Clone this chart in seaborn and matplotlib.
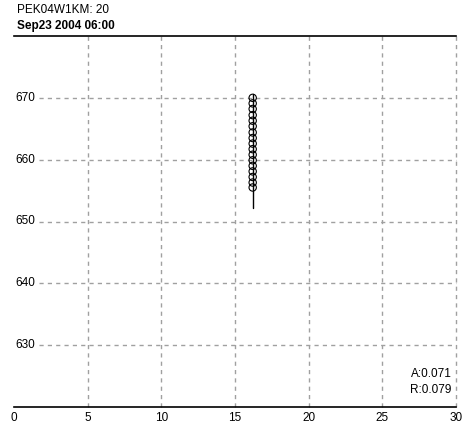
import matplotlib
matplotlib.use("Agg")
import matplotlib.pyplot as plt
import seaborn as sns

# station / time header
station = "PEK04W1KM: 20"
stamp = "Sep23 2004 06:00"

# vertical extent of the line (x fixed)
line_x = [16.2, 16.2]
line_y = [652.2, 670.6]

# circle markers along the line
pts_x = [16.2] * 17
pts_y = [670.0, 669.1, 668.2, 667.2, 666.3, 665.4, 664.4, 663.5, 662.6,
         661.7, 660.8, 659.9, 659.0, 658.1, 657.2, 656.3, 655.5]

x_ticks = [0, 5, 10, 15, 20, 25, 30]
y_ticks = [630, 640, 650, 660, 670]

stats = ["A:0.071", "R:0.079"]

sns.set_style("white", {"text.color": "black", "xtick.color": "black"})
plt.rcParams["font.family"] = ["Liberation Sans", "DejaVu Sans"]
fs = 8.5

fig = plt.figure(figsize=(4.62, 4.26), dpi=100)
ax = fig.add_axes([14 / 462, 1 - 407 / 426, 442 / 462, 371 / 426])
ax.set_xlim(0, 30)
ax.set_ylim(620, 680)

grid_kw = dict(color="#a0a0a0", lw=1, ls=(0, (3, 3)), zorder=0, clip_on=False)
for xv in x_ticks[1:]:
    ax.axvline(xv, **grid_kw)
for yv in y_ticks:
    ax.hlines(yv, 1.7, 30, **grid_kw)
    ax.text(0.1, yv, str(yv), ha="left", va="center", fontsize=fs)

sns.lineplot(x=line_x, y=line_y, orient="y", color="black", lw=1, ax=ax,
             sort=False)
sns.scatterplot(x=pts_x, y=pts_y, marker="o", s=28, facecolor="none",
                edgecolor="black", linewidth=0.8, ax=ax, zorder=3)

for s in ["left", "right"]:
    ax.spines[s].set_visible(False)
for s in ["top", "bottom"]:
    ax.spines[s].set_color("black")
    ax.spines[s].set_linewidth(1.2)

ax.set_xticks(x_ticks)
ax.set_xticklabels([str(v) for v in x_ticks], fontsize=fs, color="black")
ax.tick_params(axis="x", direction="inout", length=5, width=1, pad=1,
               color="black")
ax.set_yticks([])

ax.text(0.99, 0.088, stats[0], transform=ax.transAxes, ha="right",
        va="center", fontsize=fs, color="black")
ax.text(0.99, 0.046, stats[1], transform=ax.transAxes, ha="right",
        va="center", fontsize=fs, color="black")

fig.text(17 / 462, 1 - 10 / 426, station, ha="left", va="center", fontsize=fs,
         color="black")
fig.text(17 / 462, 1 - 26 / 426, stamp, ha="left", va="center", fontsize=fs,
         fontweight="bold", color="black")

fig.savefig("out.png", dpi=100)
